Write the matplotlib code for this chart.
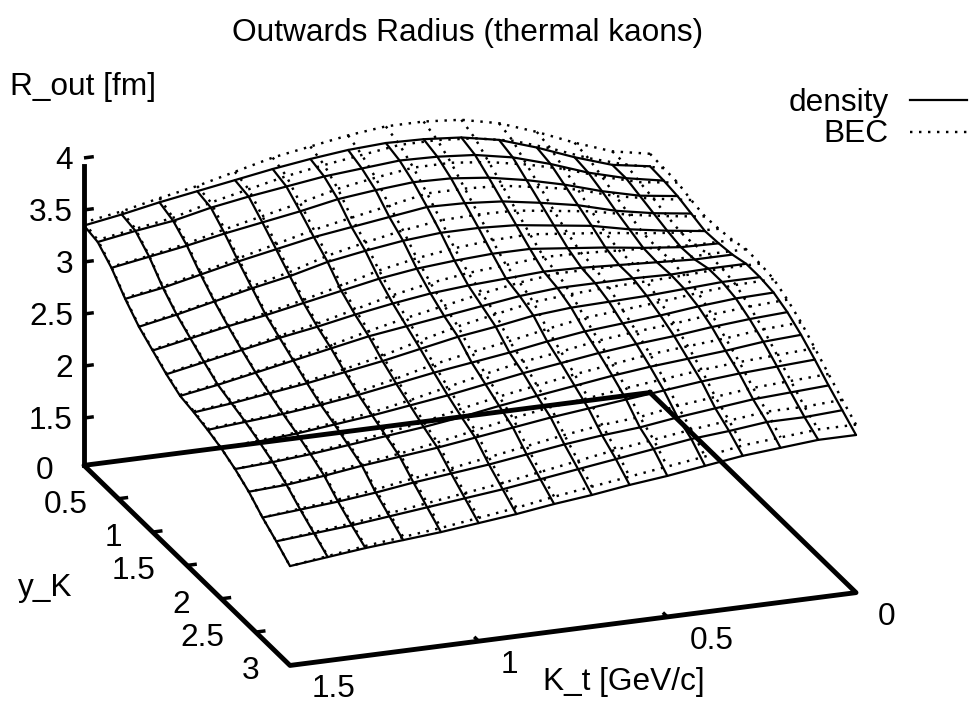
import numpy as np
import matplotlib
matplotlib.use("Agg")
import matplotlib.pyplot as plt
from mpl_toolkits.mplot3d import proj3d

kt_grid = [0.0,0.1,0.2,0.3,0.4,0.5,0.6,0.7,0.8,0.9,1.0,1.1,1.2,1.3,1.4,1.5]
y_grid = [0.0,0.2,0.4,0.6,0.8,1.0,1.2,1.4,1.6,1.8,2.0,2.2,2.4,2.6,2.8,3.0]

density = [
 [3.24,3.30,3.42,3.56,3.68,3.75,3.78,3.79,3.77,3.73,3.68,3.62,3.56,3.50,3.43,3.37],
 [3.23,3.30,3.40,3.53,3.64,3.71,3.74,3.75,3.72,3.69,3.64,3.59,3.53,3.45,3.40,3.34],
 [3.21,3.26,3.35,3.46,3.55,3.62,3.66,3.67,3.64,3.60,3.53,3.47,3.41,3.34,3.28,3.22],
 [3.17,3.22,3.29,3.39,3.46,3.52,3.55,3.56,3.51,3.46,3.41,3.34,3.27,3.19,3.11,3.05],
 [3.13,3.18,3.24,3.32,3.37,3.42,3.44,3.44,3.41,3.36,3.30,3.21,3.14,3.06,2.98,2.91],
 [3.14,3.15,3.19,3.24,3.28,3.32,3.32,3.30,3.27,3.22,3.15,3.08,3.01,2.95,2.88,2.81],
 [3.16,3.16,3.18,3.20,3.22,3.23,3.21,3.19,3.16,3.11,3.05,2.98,2.92,2.85,2.78,2.71],
 [3.20,3.20,3.19,3.20,3.20,3.20,3.17,3.12,3.07,3.02,2.97,2.90,2.83,2.76,2.69,2.63],
 [3.20,3.20,3.18,3.16,3.15,3.14,3.11,3.05,3.00,2.93,2.86,2.80,2.74,2.69,2.64,2.60],
 [3.18,3.17,3.14,3.10,3.07,3.04,2.99,2.93,2.88,2.83,2.77,2.71,2.66,2.62,2.59,2.56],
 [3.12,3.10,3.07,3.03,3.00,2.96,2.91,2.86,2.80,2.74,2.69,2.64,2.60,2.56,2.53,2.51],
 [3.03,3.01,2.97,2.94,2.91,2.87,2.82,2.77,2.72,2.66,2.61,2.57,2.53,2.49,2.46,2.44],
 [2.92,2.90,2.88,2.85,2.81,2.77,2.73,2.69,2.64,2.59,2.54,2.50,2.46,2.41,2.37,2.35],
 [2.80,2.78,2.76,2.72,2.68,2.63,2.60,2.56,2.51,2.46,2.42,2.38,2.33,2.29,2.26,2.23],
 [2.69,2.67,2.67,2.63,2.60,2.55,2.50,2.45,2.40,2.35,2.31,2.27,2.23,2.19,2.16,2.13],
 [2.58,2.58,2.55,2.52,2.47,2.42,2.38,2.33,2.29,2.24,2.20,2.16,2.13,2.10,2.06,2.02],
]

bec = [
 [3.36,3.43,3.56,3.71,3.84,3.92,3.95,3.95,3.91,3.85,3.79,3.70,3.61,3.54,3.46,3.40],
 [3.35,3.43,3.54,3.68,3.80,3.87,3.90,3.90,3.85,3.80,3.74,3.66,3.58,3.48,3.42,3.36],
 [3.34,3.39,3.49,3.61,3.70,3.77,3.81,3.81,3.76,3.70,3.61,3.53,3.45,3.36,3.29,3.23],
 [3.30,3.36,3.43,3.54,3.61,3.67,3.69,3.69,3.62,3.55,3.48,3.39,3.30,3.21,3.12,3.06],
 [3.27,3.32,3.38,3.46,3.51,3.56,3.57,3.56,3.51,3.44,3.36,3.25,3.16,3.07,2.99,2.92],
 [3.28,3.29,3.33,3.38,3.42,3.46,3.45,3.42,3.37,3.30,3.20,3.11,3.03,2.96,2.89,2.82],
 [3.30,3.30,3.32,3.34,3.36,3.37,3.34,3.31,3.26,3.19,3.10,3.01,2.94,2.86,2.79,2.72],
 [3.34,3.34,3.33,3.34,3.34,3.34,3.30,3.24,3.17,3.10,3.02,2.93,2.85,2.77,2.70,2.64],
 [3.33,3.33,3.31,3.30,3.29,3.27,3.24,3.17,3.10,3.01,2.91,2.83,2.76,2.70,2.65,2.61],
 [3.31,3.30,3.27,3.23,3.20,3.17,3.11,3.04,2.98,2.91,2.82,2.74,2.68,2.63,2.60,2.57],
 [3.24,3.22,3.19,3.15,3.12,3.08,3.02,2.97,2.90,2.82,2.74,2.67,2.62,2.57,2.54,2.51],
 [3.15,3.13,3.09,3.06,3.03,2.98,2.93,2.87,2.81,2.74,2.66,2.60,2.55,2.50,2.47,2.44],
 [3.03,3.01,2.99,2.96,2.92,2.88,2.83,2.79,2.73,2.66,2.59,2.53,2.48,2.43,2.38,2.35],
 [2.91,2.89,2.87,2.83,2.79,2.73,2.70,2.65,2.59,2.53,2.47,2.42,2.36,2.31,2.27,2.23],
 [2.79,2.77,2.77,2.73,2.69,2.64,2.59,2.53,2.47,2.41,2.36,2.31,2.26,2.21,2.17,2.13],
 [2.68,2.68,2.65,2.62,2.56,2.51,2.46,2.41,2.36,2.30,2.25,2.20,2.16,2.12,2.07,2.02],
]
READ_BIAS = -0.02  # the tables above were read against a slightly offset scale

z_ticks = [1.5, 2, 2.5, 3, 3.5, 4]
z_labels = ["1.5", "2", "2.5", "3", "3.5", "4"]
y_ticks = [0, 0.5, 1, 1.5, 2, 2.5, 3]
y_labels = ["0", "0.5", "1", "1.5", "2", "2.5", "3"]
kt_ticks = [0, 0.5, 1, 1.5]
kt_labels = ["0", "0.5", "1", "1.5"]

KT_MAX, Y_MAX, Z_MIN, Z_MAX = 1.5, 3.0, 1.045, 4.0
W, H = 974, 705
FS = 22.8
FONT = "Liberation Sans"
DOT = (0, (1.0, 2.7))

fig = plt.figure(figsize=(W / 100, H / 100), dpi=100, facecolor="white")
ax = fig.add_axes([0.1, 0.1, 0.8, 0.8 * W / H], projection="3d", proj_type="ortho")
ax.computed_zorder = False
ax.set_axis_off()
ax.patch.set_alpha(0)
ax.view_init(elev=20.7, azim=70)
ax.set_xlim(0, KT_MAX, view_margin=0)
ax.set_ylim(0, Y_MAX, view_margin=0)
ax.set_zlim(Z_MIN, Z_MAX, view_margin=0)
ax.set_box_aspect((600.0, 600.0, 327.4))


def to_px(k, y, z):
    """Figure pixel (y down) of a data point."""
    xs, ys, _ = proj3d.proj_transform(k, y, z, ax.get_proj())
    px, py = ax.transData.transform((xs, ys))
    return px, H - py


# Fit the axes box so the base plane lands where the reference has it.
for _ in range(3):
    fig.canvas.draw()
    a = to_px(0, 0, Z_MIN)
    b = to_px(KT_MAX, Y_MAX, Z_MIN)
    scale = (b[0] - a[0]) / (290 - 650)
    p = ax.get_position(original=True)
    w, h = p.width * W / scale, p.height * H / scale
    cx = (p.x0 + p.width / 2) * W
    cy = (p.y0 + p.height / 2) * H
    mx, my = (a[0] + b[0]) / 2, H - (a[1] + b[1]) / 2
    nx = cx + (mx - cx) / scale
    ny = cy + (my - cy) / scale
    cx += 470 - nx
    cy += (H - 529) - ny
    ax.set_position([(cx - w / 2) / W, (cy - h / 2) / H, w / W, h / H])

kt = np.array(kt_grid)
yy = np.array(y_grid)


def wire(table, **kw):
    z = np.array(table) + READ_BIAS
    for j in range(len(yy)):
        ax.plot(kt, np.full_like(kt, yy[j]), z[j], **kw)
    for i in range(len(kt)):
        ax.plot(np.full_like(yy, kt[i]), yy, z[:, i], **kw)


wire(bec, color="black", lw=1.75, ls=DOT, zorder=2)
wire(density, color="black", lw=1.6, solid_capstyle="round", zorder=3)

thick = dict(color="black", lw=3.5, zorder=5, solid_capstyle="projecting")
ax.plot([0, KT_MAX, KT_MAX, 0, 0], [0, 0, Y_MAX, Y_MAX, 0], [Z_MIN] * 5, **thick)
ax.plot([KT_MAX, KT_MAX], [0, 0], [Z_MIN, 3.92], **thick)

tick = dict(color="black", lw=2.5, zorder=5, solid_capstyle="butt")
for v in z_ticks:
    ax.plot([KT_MAX, KT_MAX - 0.026], [0, 0], [v, v], **tick)
for v in y_ticks[1:-1]:
    ax.plot([KT_MAX, KT_MAX - 0.026], [v, v], [Z_MIN, Z_MIN], **tick)
for v in kt_ticks[1:-1]:
    ax.plot([v, v], [Y_MAX, Y_MAX - 0.065], [Z_MIN, Z_MIN], **tick)


def label(px, py, s, ha="left", va="center"):
    fig.text(px / W, 1 - py / H, s, ha=ha, va=va, fontsize=FS, family=FONT, color="black")


for v, s in zip(z_ticks, z_labels):
    x0, y0 = to_px(KT_MAX, 0, v)
    label(x0 - 11, y0 + 3, s, ha="right")
for v, s in zip(y_ticks, y_labels):
    x0, y0 = to_px(KT_MAX, v, Z_MIN)
    label(x0 - 31, y0 + 6, s, ha="right")
for v, s in zip(kt_ticks, kt_labels):
    x0, y0 = to_px(v, Y_MAX, Z_MIN)
    label(x0 + 22, y0 + 24, s, ha="left")

label(468, 33, "Outwards Radius (thermal kaons)", ha="center")
label(10, 87, "R_out [fm]")
label(18, 588, "y_K")
label(543, 682, "K_t [GeV/c]")
label(889, 103, "density", ha="right")
label(889, 134, "BEC", ha="right")

fig.add_artist(plt.Line2D([910 / W, 967 / W], [1 - 100 / H] * 2, color="black", lw=1.6))
fig.add_artist(plt.Line2D([910 / W, 972 / W], [1 - 132 / H] * 2, color="black", lw=1.75, ls=DOT))

fig.savefig("out.png", dpi=100, facecolor="white")
